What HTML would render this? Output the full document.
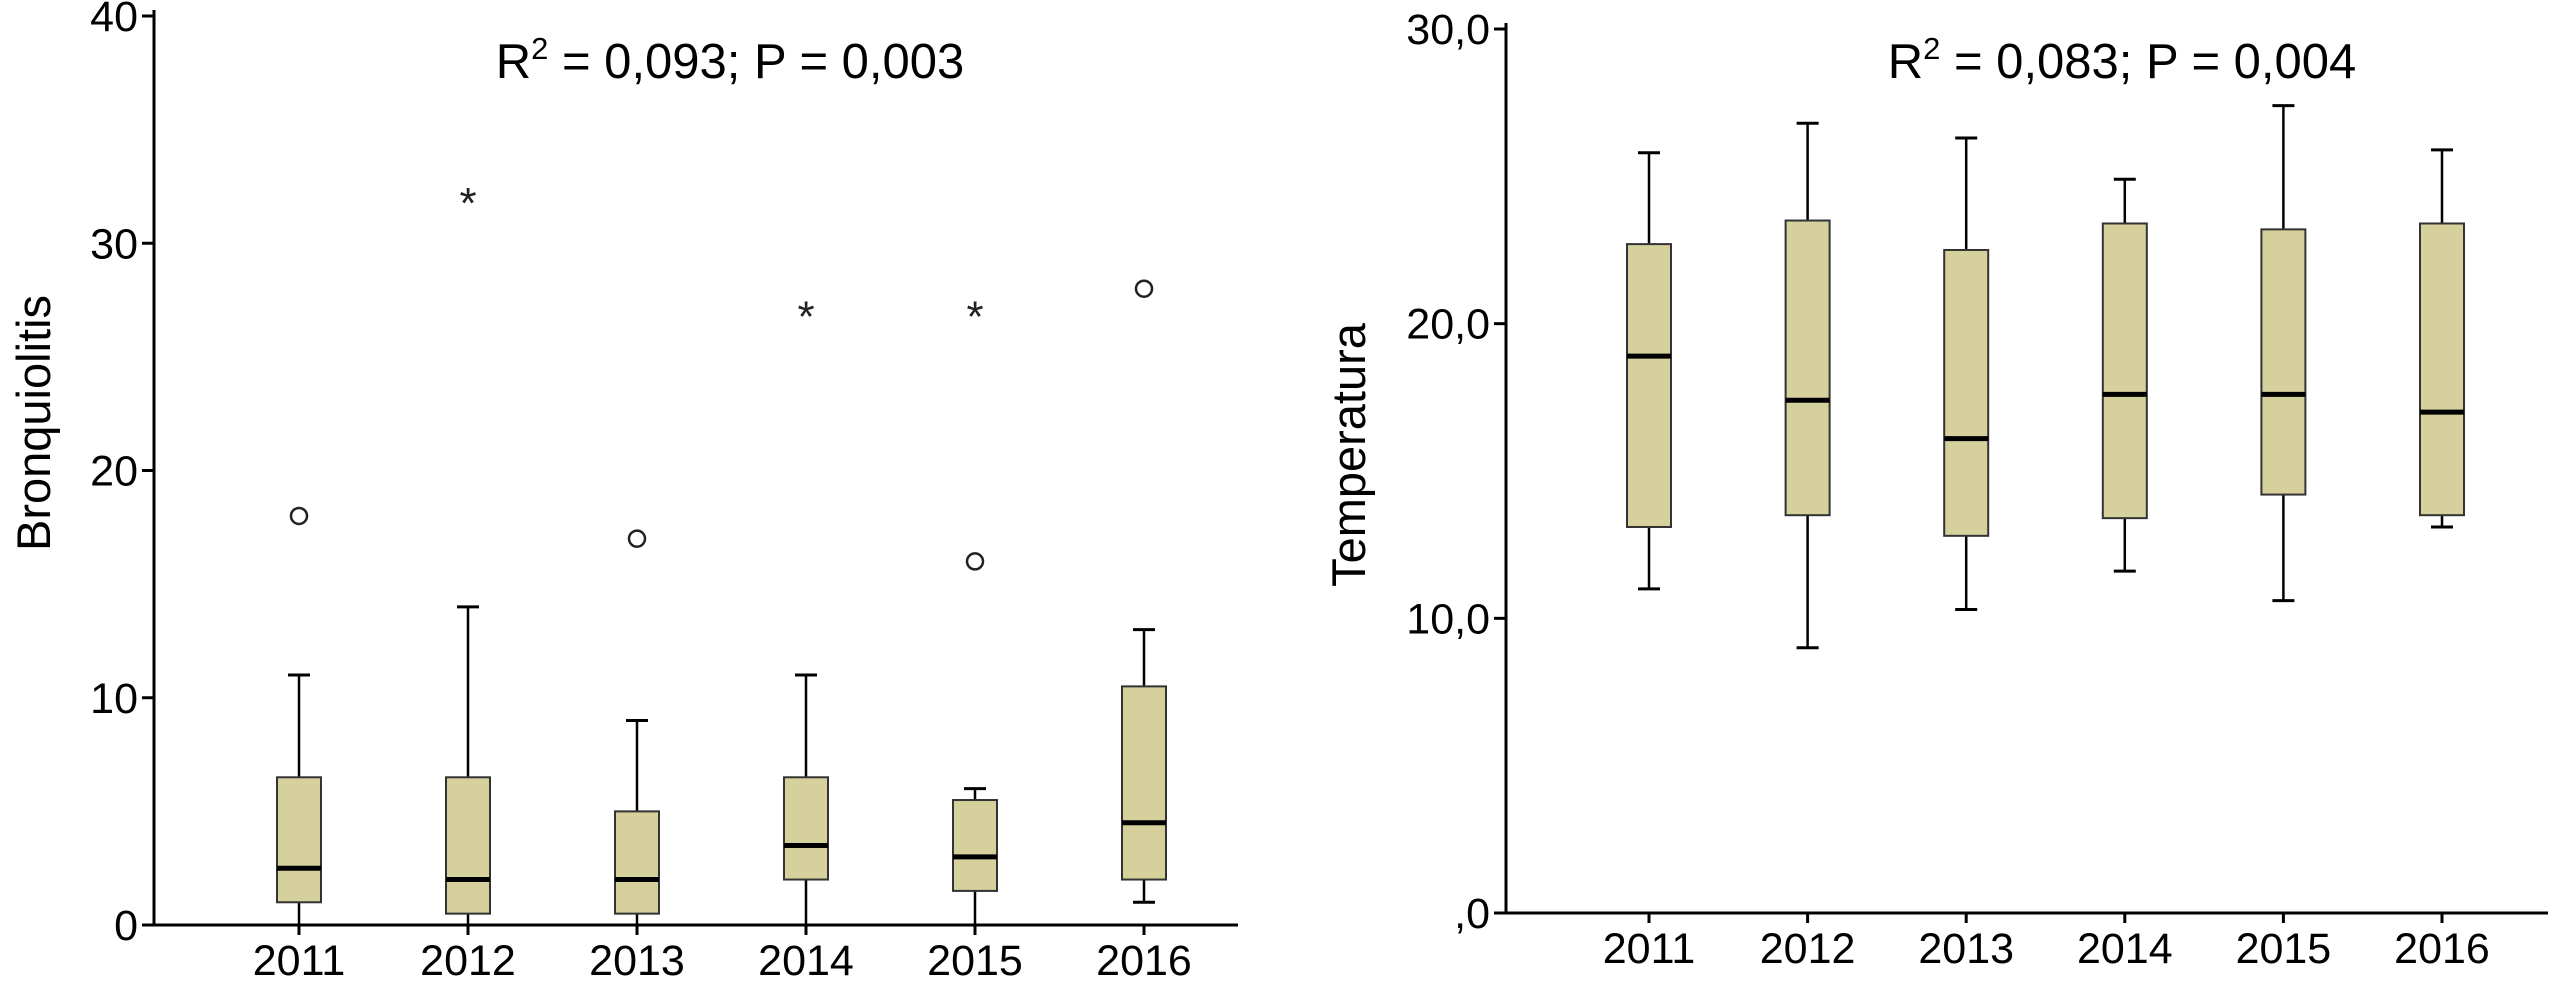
<!DOCTYPE html>
<html><head><meta charset="utf-8"><style>
html,body{margin:0;padding:0;background:#fff;}
svg{display:block;font-family:"Liberation Sans",Arial,sans-serif;}
</style></head><body>
<svg id="chart" width="2553" height="986" viewBox="0 0 2553 986"></svg>
<script>
const categories = ["2011","2012","2013","2014","2015","2016"];
// Left: Bronquiolitis [min, q1, median, q3, max]
const bronqMin = [0, 0, 0, 0, 0, 1];
const bronqQ1 = [1, 0.5, 0.5, 2, 1.5, 2];
const bronqMed = [2.5, 2, 2, 3.5, 3, 4.5];
const bronqQ3 = [6.5, 6.5, 5, 6.5, 5.5, 10.5];
const bronqMax = [11, 14, 9, 11, 6, 13];
const bronqCircles = [[18], [], [17], [], [16], [28]];
const bronqStars = [[], [32], [], [27], [27], []];
const bronqTicks = [0, 10, 20, 30, 40];
const bronqTickLabels = ["0", "10", "20", "30", "40"];
// Right: Temperatura
const tempMin = [11, 9, 10.3, 11.6, 10.6, 13.1];
const tempQ1 = [13.1, 13.5, 12.8, 13.4, 14.2, 13.5];
const tempMed = [18.9, 17.4, 16.1, 17.6, 17.6, 17];
const tempQ3 = [22.7, 23.5, 22.5, 23.4, 23.2, 23.4];
const tempMax = [25.8, 26.8, 26.3, 24.9, 27.4, 25.9];
const tempTicks = [0, 10, 20, 30];
const tempTickLabels = [",0", "10,0", "20,0", "30,0"];

const svg = document.getElementById('chart');
const NS = 'http://www.w3.org/2000/svg';
function el(tag, attrs, parent) {
  const e = document.createElementNS(NS, tag);
  for (const k in attrs) e.setAttribute(k, attrs[k]);
  (parent || svg).appendChild(e);
  return e;
}

function panel(cfg) {
  const g = el('g', {});
  
  
  const y = v => cfg.y0 - (v - cfg.vmin) * (cfg.y0 - cfg.yTop) / (cfg.vmax - cfg.vmin);
  const x = i => cfg.x0 + cfg.step * i;
  const ya = el('line', {x1: cfg.axisX, y1: cfg.yTop - 6, x2: cfg.axisX, y2: cfg.y0, stroke: '#000', 'stroke-width': 3}, g);
  
  
  const xa = el('line', {x1: cfg.axisX, y1: cfg.y0, x2: cfg.axisEnd, y2: cfg.y0, stroke: '#000', 'stroke-width': 3}, g);
  
  
  cfg.ticks.forEach((t, i) => {
    const yy = y(t);
    const tk = el('line', {x1: cfg.axisX - 12, y1: yy, x2: cfg.axisX, y2: yy, stroke: '#000', 'stroke-width': 3}, g);
    
    
    const tl = el('text', {x: cfg.axisX - 16, y: yy + 15, 'text-anchor': 'end', 'font-size': 43}, g);
    tl.textContent = cfg.tickLabels[i];
    
    
  });
  categories.forEach((c, i) => {
    const xx = x(i);
    const tk = el('line', {x1: xx, y1: cfg.y0, x2: xx, y2: cfg.y0 + 10, stroke: '#000', 'stroke-width': 3}, g);
    
    
    const tl = el('text', {x: xx, y: cfg.y0 + 50, 'text-anchor': 'middle', 'font-size': 43}, g);
    tl.textContent = c;
    
    
    const bw = 44, cw = 22;
    const bg = el('g', {}, g);
    
    
    el('line', {x1: xx, y1: y(cfg.max[i]), x2: xx, y2: y(cfg.q3[i]), stroke: '#000', 'stroke-width': 2.5}, bg);
    el('line', {x1: xx, y1: y(cfg.q1[i]), x2: xx, y2: y(cfg.min[i]), stroke: '#000', 'stroke-width': 2.5}, bg);
    el('line', {x1: xx - cw / 2, y1: y(cfg.max[i]), x2: xx + cw / 2, y2: y(cfg.max[i]), stroke: '#000', 'stroke-width': 3}, bg);
    el('line', {x1: xx - cw / 2, y1: y(cfg.min[i]), x2: xx + cw / 2, y2: y(cfg.min[i]), stroke: '#000', 'stroke-width': 3}, bg);
    el('rect', {x: xx - bw / 2, y: y(cfg.q3[i]), width: bw, height: y(cfg.q1[i]) - y(cfg.q3[i]), fill: '#d6d09c', stroke: '#333', 'stroke-width': 2}, bg);
    el('line', {x1: xx - bw / 2, y1: y(cfg.med[i]), x2: xx + bw / 2, y2: y(cfg.med[i]), stroke: '#000', 'stroke-width': 5}, bg);
    (cfg.circles ? cfg.circles[i] : []).forEach(v => {
      const o = el('circle', {cx: xx, cy: y(v), r: 8, fill: 'none', stroke: '#222', 'stroke-width': 2.5}, g);
      
      
    });
    (cfg.stars ? cfg.stars[i] : []).forEach(v => {
      const s = el('text', {x: xx, y: y(v) + 20, 'text-anchor': 'middle', 'font-size': 44, fill: '#222'}, g);
      s.textContent = '*';
      
      
    });
  });
  const ttl = el('text', {x: cfg.titleX, y: 78, 'text-anchor': 'middle', 'font-size': 49}, g);
  ttl.innerHTML = 'R<tspan dy="-19" font-size="31">2</tspan><tspan dy="19"> = ' + cfg.stat + '</tspan>';
  
  
  const yl = el('text', {x: 0, y: 0, 'text-anchor': 'middle', 'font-size': 47, transform: 'translate(' + cfg.ylabX + ',' + cfg.ylabY + ') rotate(-90)'}, g);
  yl.textContent = cfg.ylabel;
  
  
}

panel({name: 'bronquiolitis-panel', axisX: 154, axisEnd: 1238, y0: 925, yTop: 16, vmin: 0, vmax: 40,
  x0: 299, step: 169, ticks: bronqTicks, tickLabels: bronqTickLabels,
  min: bronqMin, q1: bronqQ1, med: bronqMed, q3: bronqQ3, max: bronqMax,
  circles: bronqCircles, stars: bronqStars, titleX: 730, stat: '0,093; P = 0,003',
  ylabel: 'Bronquiolitis', ylabX: 50, ylabY: 423});
panel({name: 'temperatura-panel', axisX: 1506, axisEnd: 2548, y0: 913, yTop: 29, vmin: 0, vmax: 30,
  x0: 1649, step: 158.6, ticks: tempTicks, tickLabels: tempTickLabels,
  min: tempMin, q1: tempQ1, med: tempMed, q3: tempQ3, max: tempMax,
  titleX: 2122, stat: '0,083; P = 0,004',
  ylabel: 'Temperatura', ylabX: 1365, ylabY: 455});
</script>
</body></html>
